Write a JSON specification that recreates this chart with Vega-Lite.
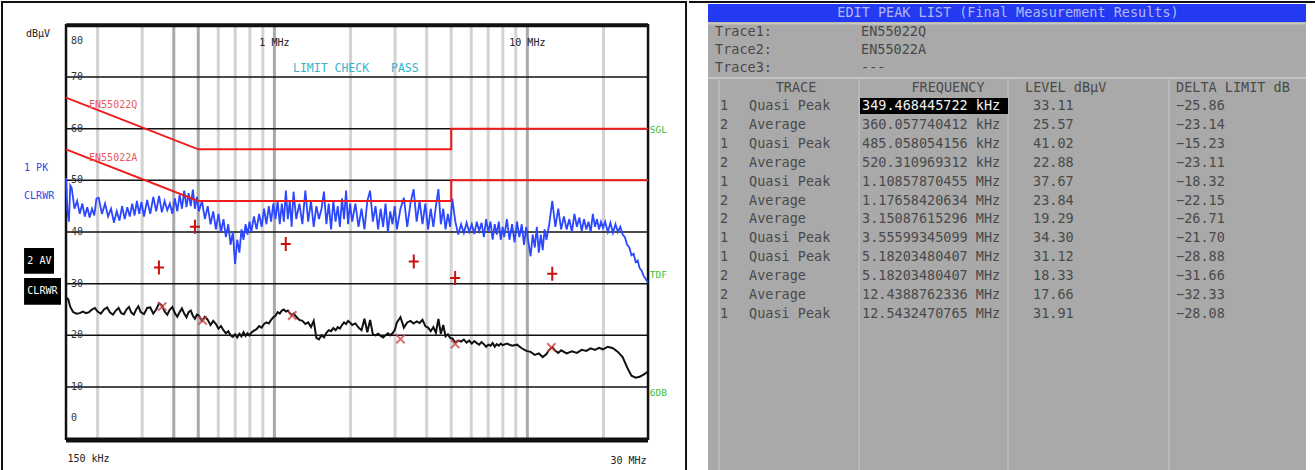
{
"$schema": "https://vega.github.io/schema/vega-lite/v6.json",
"background": "white",
"padding": 0,
"spacing": 0,
"config": {"view": {"stroke": null}, "font": "DejaVu Sans Mono", "concat": {"spacing": 0}},
"datasets": {
"grid_v": [{"f":0.2,"k":"minor"},{"f":0.3,"k":"minor"},{"f":0.4,"k":"major"},{"f":0.5,"k":"major"},{"f":0.6,"k":"minor"},{"f":0.7,"k":"minor"},{"f":0.8,"k":"minor"},{"f":0.9,"k":"minor"},{"f":1,"k":"major"},{"f":2,"k":"minor"},{"f":3,"k":"minor"},{"f":4,"k":"minor"},{"f":5,"k":"minor"},{"f":6,"k":"minor"},{"f":7,"k":"minor"},{"f":8,"k":"minor"},{"f":9,"k":"minor"},{"f":10,"k":"major"},{"f":20,"k":"minor"}],
"grid_h": [{"v":10},{"v":20},{"v":30},{"v":40},{"v":50},{"v":60},{"v":70}],
"limits": [{"lim":"EN55022Q","i":1,"f":0.15,"v":66},{"lim":"EN55022Q","i":2,"f":0.5,"v":56},{"lim":"EN55022Q","i":3,"f":5,"v":56},{"lim":"EN55022Q","i":4,"f":5,"v":60},{"lim":"EN55022Q","i":5,"f":30,"v":60},{"lim":"EN55022A","i":1,"f":0.15,"v":56},{"lim":"EN55022A","i":2,"f":0.5,"v":46},{"lim":"EN55022A","i":3,"f":5,"v":46},{"lim":"EN55022A","i":4,"f":5,"v":50},{"lim":"EN55022A","i":5,"f":30,"v":50}],
"pk": [{"f":0.150,"v":50.5},{"f":0.152,"v":44.0},{"f":0.154,"v":42.0},{"f":0.156,"v":49.0},{"f":0.158,"v":48.5},{"f":0.162,"v":44.5},{"f":0.166,"v":46.0},{"f":0.170,"v":43.5},{"f":0.174,"v":45.5},{"f":0.178,"v":43.0},{"f":0.182,"v":44.8},{"f":0.186,"v":42.8},{"f":0.190,"v":44.5},{"f":0.194,"v":43.2},{"f":0.198,"v":46.5},
{"f":0.202,"v":46.6},{"f":0.208,"v":43.5},{"f":0.214,"v":45.5},{"f":0.220,"v":43.0},{"f":0.226,"v":44.5},{"f":0.232,"v":41.8},{"f":0.238,"v":44.0},{"f":0.244,"v":42.2},{"f":0.250,"v":45.0},{"f":0.256,"v":42.5},{"f":0.262,"v":44.8},{"f":0.268,"v":43.0},{"f":0.274,"v":45.5},{"f":0.280,"v":43.2},{"f":0.286,"v":46.0},{"f":0.292,"v":43.5},{"f":0.298,"v":45.8},
{"f":0.305,"v":43.0},{"f":0.314,"v":46.2},{"f":0.323,"v":43.5},{"f":0.332,"v":46.8},{"f":0.341,"v":44.0},{"f":0.350,"v":47.0},{"f":0.359,"v":43.8},{"f":0.368,"v":46.0},{"f":0.377,"v":44.2},{"f":0.386,"v":45.5},{"f":0.395,"v":43.5},{"f":0.404,"v":46.5},{"f":0.413,"v":44.0},{"f":0.422,"v":47.2},{"f":0.431,"v":44.5},{"f":0.440,"v":48.0},{"f":0.449,"v":44.8},{"f":0.458,"v":47.5},{"f":0.467,"v":45.0},{"f":0.476,"v":48.2},{"f":0.485,"v":44.5},{"f":0.494,"v":46.8},
{"f":0.503,"v":44.0},{"f":0.517,"v":46.0},{"f":0.531,"v":42.5},{"f":0.545,"v":45.0},{"f":0.559,"v":41.5},{"f":0.573,"v":44.0},{"f":0.587,"v":40.5},{"f":0.601,"v":43.5},{"f":0.615,"v":40.0},{"f":0.629,"v":42.5},{"f":0.643,"v":39.0},{"f":0.657,"v":41.5},{"f":0.671,"v":37.5},{"f":0.685,"v":40.0},{"f":0.699,"v":33.8},{"f":0.713,"v":38.5},{"f":0.727,"v":36.0},{"f":0.741,"v":40.5},{"f":0.755,"v":38.5},{"f":0.769,"v":41.5},{"f":0.783,"v":39.5},{"f":0.797,"v":42.0},
{"f":0.81,"v":40.0},{"f":0.83,"v":43.0},{"f":0.85,"v":40.5},{"f":0.87,"v":43.5},{"f":0.89,"v":41.0},{"f":0.91,"v":44.5},{"f":0.93,"v":41.5},{"f":0.95,"v":45.0},{"f":0.97,"v":42.0},{"f":0.99,"v":45.5},{"f":1.01,"v":42.5},{"f":1.03,"v":46.0},{"f":1.05,"v":41.5},{"f":1.07,"v":45.5},{"f":1.09,"v":42.0},{"f":1.11,"v":48.0},{"f":1.13,"v":42.5},{"f":1.15,"v":46.0},{"f":1.17,"v":41.0},{"f":1.19,"v":47.8},
{"f":1.22,"v":42.5},{"f":1.255,"v":45.5},{"f":1.29,"v":41.5},{"f":1.325,"v":48.0},{"f":1.36,"v":42.0},{"f":1.395,"v":46.0},{"f":1.43,"v":41.0},{"f":1.465,"v":45.0},{"f":1.50,"v":42.5},{"f":1.535,"v":44.5},{"f":1.57,"v":47.8},{"f":1.605,"v":41.5},{"f":1.64,"v":45.5},{"f":1.675,"v":40.5},{"f":1.71,"v":46.0},{"f":1.745,"v":42.0},{"f":1.78,"v":45.0},{"f":1.815,"v":41.0},{"f":1.85,"v":46.5},{"f":1.885,"v":42.5},{"f":1.92,"v":48.0},{"f":1.955,"v":41.5},{"f":1.99,"v":45.5},
{"f":2.03,"v":42.0},{"f":2.09,"v":45.5},{"f":2.15,"v":41.0},{"f":2.21,"v":44.5},{"f":2.27,"v":40.5},{"f":2.33,"v":46.0},{"f":2.39,"v":48.0},{"f":2.45,"v":42.0},{"f":2.51,"v":45.0},{"f":2.57,"v":40.5},{"f":2.63,"v":44.5},{"f":2.69,"v":41.0},{"f":2.75,"v":45.5},{"f":2.81,"v":40.0},{"f":2.87,"v":44.0},{"f":2.93,"v":41.5},{"f":2.99,"v":45.0},
{"f":3.05,"v":40.5},{"f":3.15,"v":44.5},{"f":3.25,"v":46.6},{"f":3.35,"v":41.0},{"f":3.45,"v":45.5},{"f":3.55,"v":48.3},{"f":3.65,"v":42.0},{"f":3.75,"v":46.0},{"f":3.85,"v":41.5},{"f":3.95,"v":45.5},{"f":4.05,"v":40.5},{"f":4.15,"v":44.5},{"f":4.25,"v":41.0},{"f":4.35,"v":45.0},{"f":4.45,"v":48.3},{"f":4.55,"v":41.5},{"f":4.65,"v":44.5},{"f":4.75,"v":40.5},{"f":4.85,"v":43.5},{"f":4.95,"v":41.0},
{"f":5.05,"v":46.4},{"f":5.19,"v":42.0},{"f":5.33,"v":39.5},{"f":5.47,"v":41.5},{"f":5.61,"v":39.8},{"f":5.75,"v":41.8},{"f":5.89,"v":40.0},{"f":6.03,"v":41.5},{"f":6.17,"v":39.6},{"f":6.31,"v":42.0},{"f":6.45,"v":40.2},{"f":6.59,"v":41.8},{"f":6.73,"v":39.0},{"f":6.87,"v":42.5},{"f":7.01,"v":40.0},{"f":7.15,"v":42.0},{"f":7.29,"v":38.5},{"f":7.43,"v":41.5},{"f":7.57,"v":39.5},{"f":7.71,"v":42.0},{"f":7.85,"v":38.5},{"f":7.99,"v":41.0},
{"f":8.1,"v":39.0},{"f":8.3,"v":42.5},{"f":8.5,"v":38.5},{"f":8.7,"v":41.5},{"f":8.9,"v":38.0},{"f":9.1,"v":42.0},{"f":9.3,"v":39.0},{"f":9.5,"v":41.5},{"f":9.7,"v":37.5},{"f":9.9,"v":41.0},{"f":10.1,"v":38.0},{"f":10.3,"v":35.3},{"f":10.5,"v":39.5},{"f":10.7,"v":37.0},{"f":10.9,"v":41.0},{"f":11.1,"v":36.0},{"f":11.3,"v":39.5},{"f":11.5,"v":36.5},{"f":11.7,"v":40.5},{"f":11.9,"v":38.5},
{"f":12.2,"v":41.5},{"f":12.55,"v":46.0},{"f":12.9,"v":41.0},{"f":13.25,"v":44.5},{"f":13.6,"v":40.5},{"f":13.95,"v":43.0},{"f":14.3,"v":40.5},{"f":14.65,"v":42.5},{"f":15.0,"v":40.0},{"f":15.35,"v":43.5},{"f":15.7,"v":41.0},{"f":16.05,"v":42.8},{"f":16.4,"v":40.2},{"f":16.75,"v":42.5},{"f":17.1,"v":40.5},{"f":17.45,"v":42.0},{"f":17.8,"v":40.0},{"f":18.15,"v":43.5},{"f":18.5,"v":41.0},{"f":18.85,"v":42.5},{"f":19.2,"v":40.5},{"f":19.55,"v":42.0},{"f":19.9,"v":40.8},
{"f":20.3,"v":42.0},{"f":20.8,"v":40.0},{"f":21.3,"v":41.8},{"f":21.8,"v":39.8},{"f":22.3,"v":41.5},{"f":22.8,"v":40.0},{"f":23.3,"v":41.0},{"f":23.8,"v":39.5},{"f":24.3,"v":39.0},{"f":24.8,"v":37.5},{"f":25.3,"v":37.0},{"f":25.8,"v":35.5},{"f":26.3,"v":35.8},{"f":26.8,"v":34.2},{"f":27.3,"v":34.5},{"f":27.8,"v":33.0},{"f":28.3,"v":32.5},{"f":28.8,"v":31.5},{"f":29.3,"v":31.0},{"f":29.7,"v":30.5},{"f":30.0,"v":30.2}],
"av": [{"f":0.150,"v":27.3},{"f":0.153,"v":27.0},{"f":0.156,"v":25.5},{"f":0.160,"v":24.5},{"f":0.165,"v":24.2},{"f":0.170,"v":24.3},{"f":0.175,"v":24.6},{"f":0.180,"v":24.3},{"f":0.185,"v":24.5},{"f":0.190,"v":25.0},{"f":0.195,"v":25.3},{"f":0.200,"v":24.6},{"f":0.206,"v":24.2},{"f":0.212,"v":25.0},{"f":0.218,"v":25.4},{"f":0.224,"v":24.4},{"f":0.230,"v":24.0},{"f":0.236,"v":24.8},{"f":0.242,"v":25.3},{"f":0.248,"v":24.3},{"f":0.254,"v":24.1},{"f":0.260,"v":25.0},{"f":0.266,"v":25.5},{"f":0.272,"v":24.4},{"f":0.278,"v":24.0},{"f":0.284,"v":25.0},{"f":0.290,"v":25.6},{"f":0.296,"v":24.5},{"f":0.305,"v":24.1},{"f":0.314,"v":25.3},{"f":0.323,"v":25.4},{"f":0.332,"v":24.2},{"f":0.341,"v":25.0},{"f":0.350,"v":26.2},{"f":0.359,"v":25.8},{"f":0.368,"v":24.6},{"f":0.377,"v":24.0},{"f":0.386,"v":25.0},{"f":0.395,"v":25.5},{"f":0.404,"v":24.3},{"f":0.413,"v":23.6},{"f":0.422,"v":24.5},{"f":0.431,"v":25.2},{"f":0.440,"v":24.2},{"f":0.449,"v":23.5},{"f":0.458,"v":24.5},{"f":0.467,"v":24.8},{"f":0.476,"v":23.8},{"f":0.485,"v":23.2},{"f":0.494,"v":24.0},
{"f":0.503,"v":23.8},{"f":0.517,"v":22.8},{"f":0.531,"v":23.6},{"f":0.545,"v":23.0},{"f":0.559,"v":22.0},{"f":0.573,"v":22.8},{"f":0.587,"v":22.2},{"f":0.601,"v":21.3},{"f":0.615,"v":21.8},{"f":0.629,"v":21.0},{"f":0.643,"v":20.4},{"f":0.657,"v":20.8},{"f":0.671,"v":20.0},{"f":0.685,"v":19.7},{"f":0.699,"v":20.2},{"f":0.713,"v":19.6},{"f":0.727,"v":20.3},{"f":0.741,"v":19.8},{"f":0.755,"v":20.6},{"f":0.769,"v":19.9},{"f":0.783,"v":20.4},{"f":0.797,"v":20.0},
{"f":0.81,"v":20.5},{"f":0.83,"v":20.9},{"f":0.85,"v":21.2},{"f":0.87,"v":21.8},{"f":0.89,"v":21.5},{"f":0.91,"v":22.2},{"f":0.93,"v":22.5},{"f":0.95,"v":22.3},{"f":0.97,"v":23.0},{"f":0.99,"v":23.5},{"f":1.01,"v":23.8},{"f":1.03,"v":24.5},{"f":1.05,"v":24.2},{"f":1.07,"v":24.8},{"f":1.09,"v":25.0},{"f":1.11,"v":24.6},{"f":1.13,"v":24.8},{"f":1.15,"v":24.3},{"f":1.17,"v":23.9},{"f":1.19,"v":24.2},
{"f":1.22,"v":23.6},{"f":1.255,"v":23.0},{"f":1.29,"v":22.8},{"f":1.325,"v":22.2},{"f":1.36,"v":22.5},{"f":1.395,"v":21.6},{"f":1.43,"v":22.8},{"f":1.465,"v":19.5},{"f":1.50,"v":19.2},{"f":1.535,"v":20.0},{"f":1.57,"v":19.6},{"f":1.605,"v":20.5},{"f":1.64,"v":21.0},{"f":1.675,"v":20.8},{"f":1.71,"v":21.4},{"f":1.745,"v":21.0},{"f":1.78,"v":21.6},{"f":1.815,"v":21.3},{"f":1.85,"v":22.0},{"f":1.885,"v":22.5},{"f":1.92,"v":22.2},{"f":1.955,"v":22.8},{"f":1.99,"v":22.5},
{"f":2.03,"v":22.0},{"f":2.09,"v":22.3},{"f":2.15,"v":21.5},{"f":2.21,"v":21.0},{"f":2.27,"v":23.2},{"f":2.33,"v":20.6},{"f":2.39,"v":23.0},{"f":2.45,"v":20.2},{"f":2.51,"v":20.0},{"f":2.57,"v":20.3},{"f":2.63,"v":19.9},{"f":2.69,"v":19.6},{"f":2.75,"v":20.0},{"f":2.81,"v":20.4},{"f":2.87,"v":20.0},{"f":2.93,"v":20.4},{"f":2.99,"v":21.0},
{"f":3.05,"v":22.5},{"f":3.15,"v":23.5},{"f":3.25,"v":21.5},{"f":3.35,"v":22.5},{"f":3.45,"v":22.8},{"f":3.55,"v":22.3},{"f":3.65,"v":22.7},{"f":3.75,"v":22.4},{"f":3.85,"v":23.0},{"f":3.95,"v":21.8},{"f":4.05,"v":21.5},{"f":4.15,"v":20.8},{"f":4.25,"v":21.6},{"f":4.35,"v":20.5},{"f":4.45,"v":23.2},{"f":4.55,"v":20.3},{"f":4.65,"v":22.0},{"f":4.75,"v":19.8},{"f":4.85,"v":20.2},{"f":4.95,"v":19.5},
{"f":5.05,"v":19.4},{"f":5.19,"v":18.6},{"f":5.33,"v":19.0},{"f":5.47,"v":18.8},{"f":5.61,"v":19.2},{"f":5.75,"v":18.6},{"f":5.89,"v":19.0},{"f":6.03,"v":18.4},{"f":6.17,"v":18.9},{"f":6.31,"v":18.5},{"f":6.45,"v":18.2},{"f":6.59,"v":18.7},{"f":6.73,"v":18.3},{"f":6.87,"v":17.8},{"f":7.01,"v":18.2},{"f":7.15,"v":18.0},{"f":7.29,"v":18.5},{"f":7.43,"v":17.8},{"f":7.57,"v":18.3},{"f":7.71,"v":18.0},{"f":7.85,"v":18.4},{"f":7.99,"v":18.1},
{"f":8.3,"v":18.4},{"f":8.7,"v":18.0},{"f":9.1,"v":18.2},{"f":9.5,"v":17.5},{"f":9.9,"v":17.0},{"f":10.3,"v":16.8},{"f":10.7,"v":16.2},{"f":11.1,"v":16.5},{"f":11.5,"v":15.8},{"f":11.9,"v":16.4},{"f":12.2,"v":17.2},{"f":12.55,"v":17.7},{"f":12.9,"v":17.0},{"f":13.25,"v":16.6},{"f":13.6,"v":17.1},{"f":14.3,"v":16.5},{"f":15.0,"v":16.9},{"f":15.7,"v":16.6},{"f":16.4,"v":17.2},{"f":17.1,"v":17.0},{"f":17.8,"v":17.5},{"f":18.5,"v":17.2},{"f":19.2,"v":17.6},{"f":19.9,"v":17.3},{"f":20.8,"v":17.8},{"f":21.8,"v":17.5},{"f":22.8,"v":16.8},{"f":23.8,"v":15.8},{"f":24.8,"v":13.8},{"f":25.8,"v":12.2},{"f":26.8,"v":11.8},{"f":27.8,"v":12.0},{"f":28.8,"v":12.4},{"f":30.0,"v":13.0}],
"peaks": [
{"idx":1,"tr":1,"det":"Quasi Peak","freq":"349.468445722 kHz","f":0.349468,"level":33.11,"delta":-25.86},
{"idx":2,"tr":2,"det":"Average","freq":"360.057740412 kHz","f":0.360058,"level":25.57,"delta":-23.14},
{"idx":3,"tr":1,"det":"Quasi Peak","freq":"485.058054156 kHz","f":0.485058,"level":41.02,"delta":-15.23},
{"idx":4,"tr":2,"det":"Average","freq":"520.310969312 kHz","f":0.520311,"level":22.88,"delta":-23.11},
{"idx":5,"tr":1,"det":"Quasi Peak","freq":"1.10857870455 MHz","f":1.108579,"level":37.67,"delta":-18.32},
{"idx":6,"tr":2,"det":"Average","freq":"1.17658420634 MHz","f":1.176584,"level":23.84,"delta":-22.15},
{"idx":7,"tr":2,"det":"Average","freq":"3.15087615296 MHz","f":3.150876,"level":19.29,"delta":-26.71},
{"idx":8,"tr":1,"det":"Quasi Peak","freq":"3.55599345099 MHz","f":3.555993,"level":34.30,"delta":-21.70},
{"idx":9,"tr":1,"det":"Quasi Peak","freq":"5.18203480407 MHz","f":5.182035,"level":31.12,"delta":-28.88},
{"idx":10,"tr":2,"det":"Average","freq":"5.18203480407 MHz","f":5.182035,"level":18.33,"delta":-31.66},
{"idx":11,"tr":2,"det":"Average","freq":"12.4388762336 MHz","f":12.438876,"level":17.66,"delta":-32.33},
{"idx":12,"tr":1,"det":"Quasi Peak","freq":"12.5432470765 MHz","f":12.543247,"level":31.91,"delta":-28.08}]
},
"hconcat": [
{
"width": 686, "height": 470,
"data": {"values": [{}]},
"layer": [
{"data": {"name": "grid_v"}, "mark": {"type": "rule", "strokeWidth": 3},
 "encoding": {
  "x": {"field": "f", "type": "quantitative", "scale": {"type": "log", "domain": [0.083, 42.77], "nice": false}, "axis": null},
  "y": {"datum": 0, "type": "quantitative", "scale": {"domain": [-6.25, 84.7], "nice": false, "zero": false}, "axis": null},
  "y2": {"datum": 80},
  "color": {"field": "k", "type": "nominal", "scale": {"domain": ["major", "minor"], "range": ["#a9a9a9", "#d3d3d3"]}, "legend": null}}},
{"data": {"name": "grid_h"}, "mark": {"type": "rule", "strokeWidth": 1.5, "color": "#111111"},
 "encoding": {
  "y": {"field": "v", "type": "quantitative", "scale": {"domain": [-6.25, 84.7], "nice": false, "zero": false}, "axis": null},
  "x": {"datum": 0.15, "type": "quantitative", "scale": {"type": "log", "domain": [0.083, 42.77], "nice": false}, "axis": null},
  "x2": {"datum": 30}}},
{"data": {"name": "grid_h"}, "mark": {"type": "text", "align": "left", "baseline": "middle", "font": "DejaVu Sans Mono", "fontSize": 10, "color": "#333333"},
 "encoding": {
  "y": {"field": "v", "type": "quantitative", "scale": {"domain": [-6.25, 84.7], "nice": false, "zero": false}, "axis": null},
  "x": {"datum": 0.157, "type": "quantitative", "scale": {"type": "log", "domain": [0.083, 42.77], "nice": false}, "axis": null},
  "text": {"field": "v", "type": "quantitative"}}},
{"mark": {"type": "text", "text": "80", "align": "left", "baseline": "middle", "font": "DejaVu Sans Mono", "fontSize": 10, "color": "#333333"},
 "encoding": {"x": {"datum": 0.157, "type": "quantitative", "scale": {"type": "log", "domain": [0.083, 42.77], "nice": false}, "axis": null}, "y": {"datum": 76.9, "type": "quantitative", "scale": {"domain": [-6.25, 84.7], "nice": false, "zero": false}, "axis": null}}},
{"mark": {"type": "text", "text": "0", "align": "left", "baseline": "middle", "font": "DejaVu Sans Mono", "fontSize": 10, "color": "#333333"},
 "encoding": {"x": {"datum": 0.157, "type": "quantitative", "scale": {"type": "log", "domain": [0.083, 42.77], "nice": false}, "axis": null}, "y": {"datum": 4.0, "type": "quantitative", "scale": {"domain": [-6.25, 84.7], "nice": false, "zero": false}, "axis": null}}},
{"mark": {"type": "text", "text": "150 kHz", "align": "left", "baseline": "middle", "font": "DejaVu Sans Mono", "fontSize": 10, "color": "#222222"},
 "encoding": {"x": {"datum": 0.152, "type": "quantitative", "scale": {"type": "log", "domain": [0.083, 42.77], "nice": false}, "axis": null}, "y": {"datum": -3.9, "type": "quantitative", "scale": {"domain": [-6.25, 84.7], "nice": false, "zero": false}, "axis": null}}},
{"mark": {"type": "text", "text": "30 MHz", "align": "right", "baseline": "middle", "font": "DejaVu Sans Mono", "fontSize": 10, "color": "#222222"},
 "encoding": {"x": {"datum": 29.6, "type": "quantitative", "scale": {"type": "log", "domain": [0.083, 42.77], "nice": false}, "axis": null}, "y": {"datum": -4.3, "type": "quantitative", "scale": {"domain": [-6.25, 84.7], "nice": false, "zero": false}, "axis": null}}},
{"mark": {"type": "rect", "filled": false, "color": "#111111", "strokeWidth": 2.5},
 "encoding": {
  "x": {"datum": 0.15, "type": "quantitative", "scale": {"type": "log", "domain": [0.083, 42.77], "nice": false}, "axis": null},
  "x2": {"datum": 30},
  "y": {"datum": 0, "type": "quantitative", "scale": {"domain": [-6.25, 84.7], "nice": false, "zero": false}, "axis": null},
  "y2": {"datum": 80}}},
{"mark": {"type": "rule", "strokeWidth": 4, "color": "#111111"},
 "encoding": {
  "x": {"datum": 0.15, "type": "quantitative", "scale": {"type": "log", "domain": [0.083, 42.77], "nice": false}, "axis": null},
  "x2": {"datum": 30},
  "y": {"datum": 80, "type": "quantitative", "scale": {"domain": [-6.25, 84.7], "nice": false, "zero": false}, "axis": null}}},
{"mark": {"type": "rule", "strokeWidth": 4.5, "color": "#111111"},
 "encoding": {
  "x": {"datum": 0.15, "type": "quantitative", "scale": {"type": "log", "domain": [0.083, 42.77], "nice": false}, "axis": null},
  "x2": {"datum": 30},
  "y": {"datum": -0.3, "type": "quantitative", "scale": {"domain": [-6.25, 84.7], "nice": false, "zero": false}, "axis": null}}},
{"mark": {"type": "rule", "strokeWidth": 2, "color": "#111111"},
 "encoding": {
  "x": {"datum": 0.08376, "type": "quantitative", "scale": {"type": "log", "domain": [0.083, 42.77], "nice": false}, "axis": null},
  "y": {"datum": -6.25, "type": "quantitative", "scale": {"domain": [-6.25, 84.7], "nice": false, "zero": false}, "axis": null},
  "y2": {"datum": 84.7}}},
{"mark": {"type": "rule", "strokeWidth": 2, "color": "#111111"},
 "encoding": {
  "x": {"datum": 42.39, "type": "quantitative", "scale": {"type": "log", "domain": [0.083, 42.77], "nice": false}, "axis": null},
  "y": {"datum": -6.25, "type": "quantitative", "scale": {"domain": [-6.25, 84.7], "nice": false, "zero": false}, "axis": null},
  "y2": {"datum": 84.7}}},
{"mark": {"type": "rule", "strokeWidth": 2, "color": "#111111"},
 "encoding": {
  "x": {"datum": 0.083, "type": "quantitative", "scale": {"type": "log", "domain": [0.083, 42.77], "nice": false}, "axis": null},
  "x2": {"datum": 42.77},
  "y": {"datum": 84.51, "type": "quantitative", "scale": {"domain": [-6.25, 84.7], "nice": false, "zero": false}, "axis": null}}},
{"data": {"name": "pk"}, "mark": {"type": "line", "strokeWidth": 1.8, "color": "#2b47ff"},
 "encoding": {
  "x": {"field": "f", "type": "quantitative", "scale": {"type": "log", "domain": [0.083, 42.77], "nice": false}, "axis": null},
  "y": {"field": "v", "type": "quantitative", "scale": {"domain": [-6.25, 84.7], "nice": false, "zero": false}, "axis": null}}},
{"data": {"name": "av"}, "mark": {"type": "line", "strokeWidth": 2, "color": "#111111"},
 "encoding": {
  "x": {"field": "f", "type": "quantitative", "scale": {"type": "log", "domain": [0.083, 42.77], "nice": false}, "axis": null},
  "y": {"field": "v", "type": "quantitative", "scale": {"domain": [-6.25, 84.7], "nice": false, "zero": false}, "axis": null}}},
{"data": {"name": "limits"}, "mark": {"type": "line", "strokeWidth": 2, "color": "#ee1c1c"},
 "encoding": {
  "x": {"field": "f", "type": "quantitative", "scale": {"type": "log", "domain": [0.083, 42.77], "nice": false}, "axis": null},
  "y": {"field": "v", "type": "quantitative", "scale": {"domain": [-6.25, 84.7], "nice": false, "zero": false}, "axis": null},
  "detail": {"field": "lim", "type": "nominal"},
  "order": {"field": "i", "type": "quantitative"}}},
{"data": {"name": "peaks"}, "transform": [{"filter": "datum.det == 'Average'"}],
 "mark": {"type": "point", "shape": "M-1,-1L1,1M-1,1L1,-1", "size": 70, "filled": false, "color": "#d04848", "strokeWidth": 2, "opacity": 0.8},
 "encoding": {
  "x": {"field": "f", "type": "quantitative", "scale": {"type": "log", "domain": [0.083, 42.77], "nice": false}, "axis": null},
  "y": {"field": "level", "type": "quantitative", "scale": {"domain": [-6.25, 84.7], "nice": false, "zero": false}, "axis": null}}},
{"data": {"name": "peaks"}, "transform": [{"filter": "datum.det == 'Quasi Peak'"}],
 "mark": {"type": "point", "shape": "M-1,0L1,0M0,-1.4L0,1.4", "size": 100, "filled": false, "color": "#c81010", "strokeWidth": 2, "opacity": 1},
 "encoding": {
  "x": {"field": "f", "type": "quantitative", "scale": {"type": "log", "domain": [0.083, 42.77], "nice": false}, "axis": null},
  "y": {"field": "level", "type": "quantitative", "scale": {"domain": [-6.25, 84.7], "nice": false, "zero": false}, "axis": null}}},
{"mark": {"type": "rect", "color": "#000000"},
 "encoding": {
  "x": {"datum": 0.1024, "type": "quantitative", "scale": {"type": "log", "domain": [0.083, 42.77], "nice": false}, "axis": null},
  "x2": {"datum": 0.1345},
  "y": {"datum": 31.9, "type": "quantitative", "scale": {"domain": [-6.25, 84.7], "nice": false, "zero": false}, "axis": null},
  "y2": {"datum": 36.9}}},
{"mark": {"type": "rect", "color": "#000000"},
 "encoding": {
  "x": {"datum": 0.1024, "type": "quantitative", "scale": {"type": "log", "domain": [0.083, 42.77], "nice": false}, "axis": null},
  "x2": {"datum": 0.1433},
  "y": {"datum": 25.9, "type": "quantitative", "scale": {"domain": [-6.25, 84.7], "nice": false, "zero": false}, "axis": null},
  "y2": {"datum": 31.1}}},
{"mark": {"type": "text", "text": "dBµV", "align": "left", "baseline": "middle", "font": "DejaVu Sans Mono", "fontSize": 10, "color": "#222222"},
 "encoding": {"x": {"datum": 0.1042, "type": "quantitative", "scale": {"type": "log", "domain": [0.083, 42.77], "nice": false}, "axis": null}, "y": {"datum": 78.3, "type": "quantitative", "scale": {"domain": [-6.25, 84.7], "nice": false, "zero": false}, "axis": null}}},
{"mark": {"type": "text", "text": "1 PK", "align": "left", "baseline": "middle", "font": "DejaVu Sans Mono", "fontSize": 10, "color": "#3048e8"},
 "encoding": {"x": {"datum": 0.1024, "type": "quantitative", "scale": {"type": "log", "domain": [0.083, 42.77], "nice": false}, "axis": null}, "y": {"datum": 52.4, "type": "quantitative", "scale": {"domain": [-6.25, 84.7], "nice": false, "zero": false}, "axis": null}}},
{"mark": {"type": "text", "text": "CLRWR", "align": "left", "baseline": "middle", "font": "DejaVu Sans Mono", "fontSize": 10, "color": "#3048e8"},
 "encoding": {"x": {"datum": 0.1024, "type": "quantitative", "scale": {"type": "log", "domain": [0.083, 42.77], "nice": false}, "axis": null}, "y": {"datum": 47.0, "type": "quantitative", "scale": {"domain": [-6.25, 84.7], "nice": false, "zero": false}, "axis": null}}},
{"mark": {"type": "text", "text": "2 AV", "align": "left", "baseline": "middle", "font": "DejaVu Sans Mono", "fontSize": 10, "color": "#ffffff"},
 "encoding": {"x": {"datum": 0.1055, "type": "quantitative", "scale": {"type": "log", "domain": [0.083, 42.77], "nice": false}, "axis": null}, "y": {"datum": 34.4, "type": "quantitative", "scale": {"domain": [-6.25, 84.7], "nice": false, "zero": false}, "axis": null}}},
{"mark": {"type": "text", "text": "CLRWR", "align": "left", "baseline": "middle", "font": "DejaVu Sans Mono", "fontSize": 10, "color": "#ffffff"},
 "encoding": {"x": {"datum": 0.1055, "type": "quantitative", "scale": {"type": "log", "domain": [0.083, 42.77], "nice": false}, "axis": null}, "y": {"datum": 28.5, "type": "quantitative", "scale": {"domain": [-6.25, 84.7], "nice": false, "zero": false}, "axis": null}}},
{"mark": {"type": "text", "text": "EN55022Q", "align": "left", "baseline": "middle", "font": "DejaVu Sans Mono", "fontSize": 10, "color": "#e85a5a"},
 "encoding": {"x": {"datum": 0.185, "type": "quantitative", "scale": {"type": "log", "domain": [0.083, 42.77], "nice": false}, "axis": null}, "y": {"datum": 64.6, "type": "quantitative", "scale": {"domain": [-6.25, 84.7], "nice": false, "zero": false}, "axis": null}}},
{"mark": {"type": "text", "text": "EN55022A", "align": "left", "baseline": "middle", "font": "DejaVu Sans Mono", "fontSize": 10, "color": "#e85a5a"},
 "encoding": {"x": {"datum": 0.185, "type": "quantitative", "scale": {"type": "log", "domain": [0.083, 42.77], "nice": false}, "axis": null}, "y": {"datum": 54.3, "type": "quantitative", "scale": {"domain": [-6.25, 84.7], "nice": false, "zero": false}, "axis": null}}},
{"mark": {"type": "text", "text": "LIMIT CHECK", "align": "left", "baseline": "middle", "font": "DejaVu Sans Mono", "fontSize": 11.5, "color": "#38b4c8"},
 "encoding": {"x": {"datum": 1.184, "type": "quantitative", "scale": {"type": "log", "domain": [0.083, 42.77], "nice": false}, "axis": null}, "y": {"datum": 71.5, "type": "quantitative", "scale": {"domain": [-6.25, 84.7], "nice": false, "zero": false}, "axis": null}}},
{"mark": {"type": "text", "text": "PASS", "align": "left", "baseline": "middle", "font": "DejaVu Sans Mono", "fontSize": 11.5, "color": "#38b4c8"},
 "encoding": {"x": {"datum": 2.89, "type": "quantitative", "scale": {"type": "log", "domain": [0.083, 42.77], "nice": false}, "axis": null}, "y": {"datum": 71.5, "type": "quantitative", "scale": {"domain": [-6.25, 84.7], "nice": false, "zero": false}, "axis": null}}},
{"mark": {"type": "text", "text": "1 MHz", "align": "center", "baseline": "middle", "font": "DejaVu Sans Mono", "fontSize": 10, "color": "#222222"},
 "encoding": {"x": {"datum": 1, "type": "quantitative", "scale": {"type": "log", "domain": [0.083, 42.77], "nice": false}, "axis": null}, "y": {"datum": 76.6, "type": "quantitative", "scale": {"domain": [-6.25, 84.7], "nice": false, "zero": false}, "axis": null}}},
{"mark": {"type": "text", "text": "10 MHz", "align": "center", "baseline": "middle", "font": "DejaVu Sans Mono", "fontSize": 10, "color": "#222222"},
 "encoding": {"x": {"datum": 10, "type": "quantitative", "scale": {"type": "log", "domain": [0.083, 42.77], "nice": false}, "axis": null}, "y": {"datum": 76.6, "type": "quantitative", "scale": {"domain": [-6.25, 84.7], "nice": false, "zero": false}, "axis": null}}},
{"mark": {"type": "text", "text": "SGL", "align": "left", "baseline": "middle", "font": "DejaVu Sans Mono", "fontSize": 9.5, "color": "#3cc03c"},
 "encoding": {"x": {"datum": 30.5, "type": "quantitative", "scale": {"type": "log", "domain": [0.083, 42.77], "nice": false}, "axis": null}, "y": {"datum": 59.7, "type": "quantitative", "scale": {"domain": [-6.25, 84.7], "nice": false, "zero": false}, "axis": null}}},
{"mark": {"type": "text", "text": "TDF", "align": "left", "baseline": "middle", "font": "DejaVu Sans Mono", "fontSize": 9.5, "color": "#3cc03c"},
 "encoding": {"x": {"datum": 30.5, "type": "quantitative", "scale": {"type": "log", "domain": [0.083, 42.77], "nice": false}, "axis": null}, "y": {"datum": 31.7, "type": "quantitative", "scale": {"domain": [-6.25, 84.7], "nice": false, "zero": false}, "axis": null}}},
{"mark": {"type": "text", "text": "6DB", "align": "left", "baseline": "middle", "font": "DejaVu Sans Mono", "fontSize": 9.5, "color": "#3cc03c"},
 "encoding": {"x": {"datum": 30.5, "type": "quantitative", "scale": {"type": "log", "domain": [0.083, 42.77], "nice": false}, "axis": null}, "y": {"datum": 8.8, "type": "quantitative", "scale": {"domain": [-6.25, 84.7], "nice": false, "zero": false}, "axis": null}}}
]
},
{
"width": 629, "height": 470,
"data": {"values": [{}]},
"layer": [
{"mark": {"type": "rule", "strokeWidth": 2, "color": "#111111"},
 "encoding": {"x": {"datum": 686, "type": "quantitative", "scale": {"domain": [686, 1315], "nice": false, "zero": false}, "axis": null}, "x2": {"datum": 1315},
  "y": {"datum": -4.503, "type": "quantitative", "scale": {"domain": [-4.556, 20.312], "reverse": true, "nice": false, "zero": false}, "axis": null}}},
{"mark": {"type": "rect", "color": "#a9a9a9"},
 "encoding": {"x": {"datum": 705, "type": "quantitative", "scale": {"domain": [686, 1315], "nice": false, "zero": false}, "axis": null}, "x2": {"datum": 1303},
  "y": {"datum": -4.397, "type": "quantitative", "scale": {"domain": [-4.556, 20.312], "reverse": true, "nice": false, "zero": false}, "axis": null}, "y2": {"datum": 20.312}}},
{"mark": {"type": "rect", "color": "#2339f2"},
 "encoding": {"x": {"datum": 705, "type": "quantitative", "scale": {"domain": [686, 1315], "nice": false, "zero": false}, "axis": null}, "x2": {"datum": 1303},
  "y": {"datum": -4.397, "type": "quantitative", "scale": {"domain": [-4.556, 20.312], "reverse": true, "nice": false, "zero": false}, "axis": null}, "y2": {"datum": -3.444}}},
{"mark": {"type": "rule", "strokeWidth": 2, "color": "#c9c9c0"},
 "encoding": {"x": {"datum": 705, "type": "quantitative", "scale": {"domain": [686, 1315], "nice": false, "zero": false}, "axis": null}, "x2": {"datum": 1303},
  "y": {"datum": -3.36, "type": "quantitative", "scale": {"domain": [-4.556, 20.312], "reverse": true, "nice": false, "zero": false}, "axis": null}}},
{"mark": {"type": "rule", "strokeWidth": 2, "color": "#c4c4c4"},
 "encoding": {"x": {"datum": 705, "type": "quantitative", "scale": {"domain": [686, 1315], "nice": false, "zero": false}, "axis": null}, "x2": {"datum": 1303},
  "y": {"datum": -0.48, "type": "quantitative", "scale": {"domain": [-4.556, 20.312], "reverse": true, "nice": false, "zero": false}, "axis": null}}},
{"mark": {"type": "rule", "strokeWidth": 1.5, "color": "#bebebe"},
 "encoding": {"x": {"datum": 716, "type": "quantitative", "scale": {"domain": [686, 1315], "nice": false, "zero": false}, "axis": null},
  "y": {"datum": -0.48, "type": "quantitative", "scale": {"domain": [-4.556, 20.312], "reverse": true, "nice": false, "zero": false}, "axis": null}, "y2": {"datum": 20.312}}},
{"mark": {"type": "rule", "strokeWidth": 1.5, "color": "#bebebe"},
 "encoding": {"x": {"datum": 856, "type": "quantitative", "scale": {"domain": [686, 1315], "nice": false, "zero": false}, "axis": null},
  "y": {"datum": -0.48, "type": "quantitative", "scale": {"domain": [-4.556, 20.312], "reverse": true, "nice": false, "zero": false}, "axis": null}, "y2": {"datum": 20.312}}},
{"mark": {"type": "rule", "strokeWidth": 1.5, "color": "#bebebe"},
 "encoding": {"x": {"datum": 1005, "type": "quantitative", "scale": {"domain": [686, 1315], "nice": false, "zero": false}, "axis": null},
  "y": {"datum": -0.48, "type": "quantitative", "scale": {"domain": [-4.556, 20.312], "reverse": true, "nice": false, "zero": false}, "axis": null}, "y2": {"datum": 20.312}}},
{"mark": {"type": "rule", "strokeWidth": 1.5, "color": "#bebebe"},
 "encoding": {"x": {"datum": 1166, "type": "quantitative", "scale": {"domain": [686, 1315], "nice": false, "zero": false}, "axis": null},
  "y": {"datum": -0.48, "type": "quantitative", "scale": {"domain": [-4.556, 20.312], "reverse": true, "nice": false, "zero": false}, "axis": null}, "y2": {"datum": 20.312}}},
{"mark": {"type": "rect", "color": "#000000"},
 "encoding": {"x": {"datum": 857, "type": "quantitative", "scale": {"domain": [686, 1315], "nice": false, "zero": false}, "axis": null}, "x2": {"datum": 1005},
  "y": {"datum": 0.577, "type": "quantitative", "scale": {"domain": [-4.556, 20.312], "reverse": true, "nice": false, "zero": false}, "axis": null}, "y2": {"datum": 1.423}}},
{"mark": {"type": "text", "text": "EDIT PEAK LIST (Final Measurement Results)", "align": "center", "baseline": "middle", "font": "DejaVu Sans Mono", "fontSize": 13.5, "color": "#b4b8f2"},
 "encoding": {"x": {"datum": 1005, "type": "quantitative", "scale": {"domain": [686, 1315], "nice": false, "zero": false}, "axis": null},
  "y": {"datum": -3.92, "type": "quantitative", "scale": {"domain": [-4.556, 20.312], "reverse": true, "nice": false, "zero": false}, "axis": null}}},
{"mark": {"type": "text", "text": "Trace1:", "align": "left", "baseline": "middle", "font": "DejaVu Sans Mono", "fontSize": 13.5, "color": "#4a4a4a"},
 "encoding": {"x": {"datum": 712, "type": "quantitative", "scale": {"domain": [686, 1315], "nice": false, "zero": false}, "axis": null},
  "y": {"datum": -2.915, "type": "quantitative", "scale": {"domain": [-4.556, 20.312], "reverse": true, "nice": false, "zero": false}, "axis": null}}},
{"mark": {"type": "text", "text": "Trace2:", "align": "left", "baseline": "middle", "font": "DejaVu Sans Mono", "fontSize": 13.5, "color": "#4a4a4a"},
 "encoding": {"x": {"datum": 712, "type": "quantitative", "scale": {"domain": [686, 1315], "nice": false, "zero": false}, "axis": null},
  "y": {"datum": -1.963, "type": "quantitative", "scale": {"domain": [-4.556, 20.312], "reverse": true, "nice": false, "zero": false}, "axis": null}}},
{"mark": {"type": "text", "text": "Trace3:", "align": "left", "baseline": "middle", "font": "DejaVu Sans Mono", "fontSize": 13.5, "color": "#4a4a4a"},
 "encoding": {"x": {"datum": 712, "type": "quantitative", "scale": {"domain": [686, 1315], "nice": false, "zero": false}, "axis": null},
  "y": {"datum": -1.01, "type": "quantitative", "scale": {"domain": [-4.556, 20.312], "reverse": true, "nice": false, "zero": false}, "axis": null}}},
{"mark": {"type": "text", "text": "EN55022Q", "align": "left", "baseline": "middle", "font": "DejaVu Sans Mono", "fontSize": 13.5, "color": "#4a4a4a"},
 "encoding": {"x": {"datum": 858, "type": "quantitative", "scale": {"domain": [686, 1315], "nice": false, "zero": false}, "axis": null},
  "y": {"datum": -2.915, "type": "quantitative", "scale": {"domain": [-4.556, 20.312], "reverse": true, "nice": false, "zero": false}, "axis": null}}},
{"mark": {"type": "text", "text": "EN55022A", "align": "left", "baseline": "middle", "font": "DejaVu Sans Mono", "fontSize": 13.5, "color": "#4a4a4a"},
 "encoding": {"x": {"datum": 858, "type": "quantitative", "scale": {"domain": [686, 1315], "nice": false, "zero": false}, "axis": null},
  "y": {"datum": -1.963, "type": "quantitative", "scale": {"domain": [-4.556, 20.312], "reverse": true, "nice": false, "zero": false}, "axis": null}}},
{"mark": {"type": "text", "text": "---", "align": "left", "baseline": "middle", "font": "DejaVu Sans Mono", "fontSize": 13.5, "color": "#4a4a4a"},
 "encoding": {"x": {"datum": 858, "type": "quantitative", "scale": {"domain": [686, 1315], "nice": false, "zero": false}, "axis": null},
  "y": {"datum": -1.01, "type": "quantitative", "scale": {"domain": [-4.556, 20.312], "reverse": true, "nice": false, "zero": false}, "axis": null}}},
{"mark": {"type": "text", "text": "TRACE", "align": "center", "baseline": "middle", "font": "DejaVu Sans Mono", "fontSize": 13.5, "color": "#4a4a4a"},
 "encoding": {"x": {"datum": 793, "type": "quantitative", "scale": {"domain": [686, 1315], "nice": false, "zero": false}, "axis": null},
  "y": {"datum": 0.05, "type": "quantitative", "scale": {"domain": [-4.556, 20.312], "reverse": true, "nice": false, "zero": false}, "axis": null}}},
{"mark": {"type": "text", "text": "FREQUENCY", "align": "center", "baseline": "middle", "font": "DejaVu Sans Mono", "fontSize": 13.5, "color": "#4a4a4a"},
 "encoding": {"x": {"datum": 945, "type": "quantitative", "scale": {"domain": [686, 1315], "nice": false, "zero": false}, "axis": null},
  "y": {"datum": 0.05, "type": "quantitative", "scale": {"domain": [-4.556, 20.312], "reverse": true, "nice": false, "zero": false}, "axis": null}}},
{"mark": {"type": "text", "text": "LEVEL dBµV", "align": "left", "baseline": "middle", "font": "DejaVu Sans Mono", "fontSize": 13.5, "color": "#4a4a4a"},
 "encoding": {"x": {"datum": 1022, "type": "quantitative", "scale": {"domain": [686, 1315], "nice": false, "zero": false}, "axis": null},
  "y": {"datum": 0.05, "type": "quantitative", "scale": {"domain": [-4.556, 20.312], "reverse": true, "nice": false, "zero": false}, "axis": null}}},
{"mark": {"type": "text", "text": "DELTA LIMIT dB", "align": "left", "baseline": "middle", "font": "DejaVu Sans Mono", "fontSize": 13.5, "color": "#4a4a4a"},
 "encoding": {"x": {"datum": 1173, "type": "quantitative", "scale": {"domain": [686, 1315], "nice": false, "zero": false}, "axis": null},
  "y": {"datum": 0.05, "type": "quantitative", "scale": {"domain": [-4.556, 20.312], "reverse": true, "nice": false, "zero": false}, "axis": null}}},
{"data": {"name": "peaks"}, "mark": {"type": "text", "align": "left", "baseline": "middle", "font": "DejaVu Sans Mono", "fontSize": 13.5, "color": "#4a4a4a"},
 "encoding": {"x": {"datum": 717, "type": "quantitative", "scale": {"domain": [686, 1315], "nice": false, "zero": false}, "axis": null},
  "y": {"field": "idx", "type": "quantitative", "scale": {"domain": [-4.556, 20.312], "reverse": true, "nice": false, "zero": false}, "axis": null},
  "text": {"field": "tr", "type": "nominal"}}},
{"data": {"name": "peaks"}, "mark": {"type": "text", "align": "left", "baseline": "middle", "font": "DejaVu Sans Mono", "fontSize": 13.5, "color": "#4a4a4a"},
 "encoding": {"x": {"datum": 746, "type": "quantitative", "scale": {"domain": [686, 1315], "nice": false, "zero": false}, "axis": null},
  "y": {"field": "idx", "type": "quantitative", "scale": {"domain": [-4.556, 20.312], "reverse": true, "nice": false, "zero": false}, "axis": null},
  "text": {"field": "det", "type": "nominal"}}},
{"data": {"name": "peaks"}, "mark": {"type": "text", "align": "left", "baseline": "middle", "font": "DejaVu Sans Mono", "fontSize": 13.5},
 "encoding": {"x": {"datum": 859, "type": "quantitative", "scale": {"domain": [686, 1315], "nice": false, "zero": false}, "axis": null},
  "y": {"field": "idx", "type": "quantitative", "scale": {"domain": [-4.556, 20.312], "reverse": true, "nice": false, "zero": false}, "axis": null},
  "text": {"field": "freq", "type": "nominal"},
  "color": {"condition": {"test": "datum.idx == 1", "value": "#f2f2f2"}, "value": "#4a4a4a"}}},
{"data": {"name": "peaks"}, "mark": {"type": "text", "align": "left", "baseline": "middle", "font": "DejaVu Sans Mono", "fontSize": 13.5, "color": "#4a4a4a"},
 "encoding": {"x": {"datum": 1030, "type": "quantitative", "scale": {"domain": [686, 1315], "nice": false, "zero": false}, "axis": null},
  "y": {"field": "idx", "type": "quantitative", "scale": {"domain": [-4.556, 20.312], "reverse": true, "nice": false, "zero": false}, "axis": null},
  "text": {"field": "level", "type": "quantitative", "format": ".2f"}}},
{"data": {"name": "peaks"}, "mark": {"type": "text", "align": "left", "baseline": "middle", "font": "DejaVu Sans Mono", "fontSize": 13.5, "color": "#4a4a4a"},
 "encoding": {"x": {"datum": 1173, "type": "quantitative", "scale": {"domain": [686, 1315], "nice": false, "zero": false}, "axis": null},
  "y": {"field": "idx", "type": "quantitative", "scale": {"domain": [-4.556, 20.312], "reverse": true, "nice": false, "zero": false}, "axis": null},
  "text": {"field": "delta", "type": "quantitative", "format": ".2f"}}}
]
}
]
}
